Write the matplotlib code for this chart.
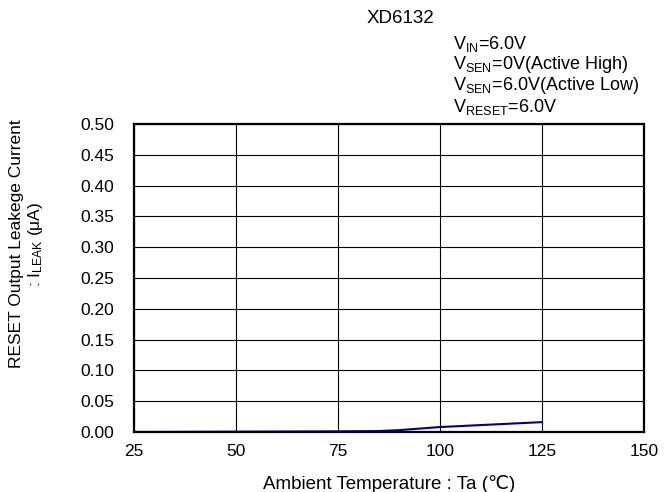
import matplotlib
matplotlib.use('Agg')
import matplotlib.pyplot as plt

plt.rcParams['font.family'] = ['Liberation Sans', 'DejaVu Sans']
plt.rcParams['mathtext.fontset'] = 'custom'
plt.rcParams['mathtext.rm'] = 'Liberation Sans'
plt.rcParams['mathtext.it'] = 'Liberation Sans'
plt.rcParams['mathtext.default'] = 'regular'

# data
temps = [25, 50, 75, 85, 90, 100, 125]
leak = [0.0, 0.0005, 0.001, 0.0015, 0.003, 0.008, 0.016]

xticks = [25, 50, 75, 100, 125, 150]
yticks = [0.00, 0.05, 0.10, 0.15, 0.20, 0.25, 0.30, 0.35, 0.40, 0.45, 0.50]

fig = plt.figure(figsize=(6.67, 4.92), dpi=100)
ax = fig.add_axes([0.201, 0.122, 0.7645, 0.626])

ax.plot(temps, leak, color='#000080', lw=1.5, zorder=3)

ax.set_xlim(25, 150)
ax.set_ylim(0, 0.5)
ax.set_xticks(xticks)
ax.set_yticks(yticks)
ax.set_yticklabels([f'{v:.2f}' for v in yticks])
ax.tick_params(length=0, labelsize=12.5)
ax.tick_params(axis='y', pad=14)
ax.tick_params(axis='x', pad=9)
ax.grid(True, color='black', lw=0.8)
for s in ax.spines.values():
    s.set_linewidth(1.6)
    s.set_zorder(4)

ax.set_xlabel('Ambient Temperature : Ta (\u2103)', fontsize=13.5, labelpad=11)
fig.text(27 / 667, 1 - 244 / 492,
         'RESET Output Leakege Current\n: I$_{LEAK}$ (\u03bcA)', fontsize=12.5,
         rotation=90, ha='center', va='center', multialignment='center',
         linespacing=1.1)

fig.text(0.6, 0.963, 'XD6132', fontsize=13.5, ha='center', va='center')
notes = ['V$_{IN}$=6.0V', 'V$_{SEN}$=0V(Active High)',
         'V$_{SEN}$=6.0V(Active Low)', 'V$_{RESET}$=6.0V']
for i, t in enumerate(notes):
    fig.text(0.679, 0.911 - i * 0.0427, t, fontsize=13, ha='left', va='center')

fig.savefig('out.png', dpi=100)
